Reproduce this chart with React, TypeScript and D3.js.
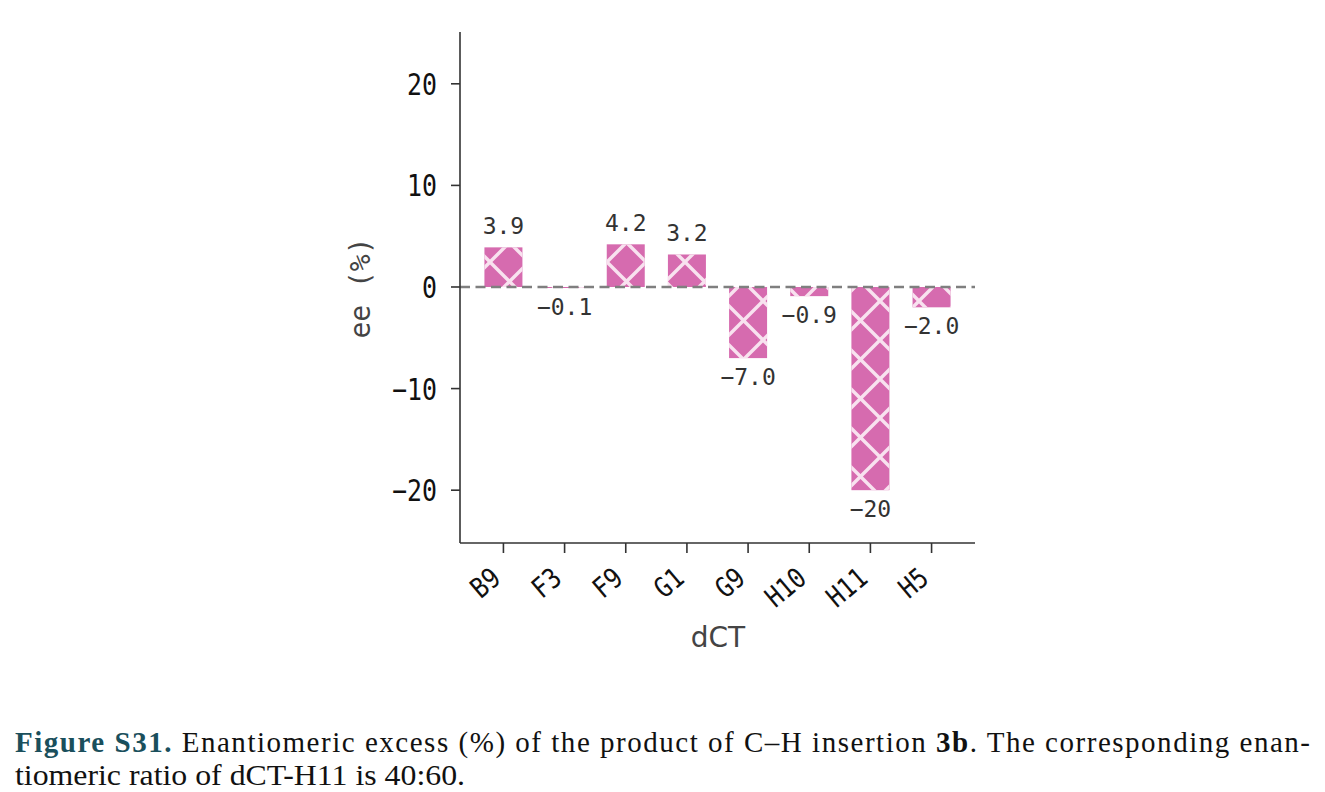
import React from 'react';
import * as d3 from 'd3';

const categories = ['B9', 'F3', 'F9', 'G1', 'G9', 'H10', 'H11', 'H5'];
const eeValues = [3.9, -0.1, 4.2, 3.2, -7.0, -0.9, -20, -2.0];
const valueLabels = ['3.9', '\u22120.1', '4.2', '3.2', '\u22127.0', '\u22120.9', '\u221220', '\u22122.0'];
const yTicks = [-20, -10, 0, 10, 20];
const yTickLabels = ['\u221220', '\u221210', '0', '10', '20'];
const yDomain = [-25.2, 25.1];

const W = 1325;
const H = 792;
const plot = { left: 460, right: 975, top: 32, bottom: 543 };
const PINK = '#d66baf';
const HATCH = '#f8e2ef';
const AXIS = '#333333';
const MONO = '"DejaVu Sans Mono", monospace';

export default function App() {
  const y = d3.scaleLinear().domain(yDomain).range([plot.bottom, plot.top]);
  const x = d3.scalePoint<string>().domain(categories).range([plot.left, plot.right]).padding(0.71);
  const barW = 38;
  const P = 39;
  const hatchLines: string[] = [];
  for (let k = -1; k <= 1; k++) {
    hatchLines.push(`M${-2},${-2 + k * P} L${P + 2},${P + 2 + k * P}`);
    hatchLines.push(`M${-2},${P + 2 + k * P} L${P + 2},${-2 + k * P}`);
  }
  const zeroY = y(0);
  return (
    <svg width={W} height={H} style={{ position: 'absolute', left: 0, top: 0, background: '#fff' }}>
      <defs>
        <pattern id="hatch" patternUnits="userSpaceOnUse" width={P} height={P} x={22} y={28}>
          <path d={hatchLines.join(' ')} stroke={HATCH} strokeWidth={3.4} fill="none" />
        </pattern>
      </defs>
      <rect x={0} y={0} width={W} height={H} fill="#fff" />
      {categories.map((c, i) => {
        const v = eeValues[i];
        const cx = x(c) as number;
        const y0 = Math.min(y(v), zeroY);
        const h = Math.abs(y(v) - zeroY);
        return (
          <g key={c}>
            <rect x={cx - barW / 2} y={y0} width={barW} height={h} fill={PINK} />
            <rect x={cx - barW / 2} y={y0} width={barW} height={h} fill="url(#hatch)" />
          </g>
        );
      })}
      <line x1={plot.left} x2={plot.right} y1={zeroY} y2={zeroY} stroke="#7f7f7f" strokeWidth={2.4} strokeDasharray="10,5.5" />
      {categories.map((c, i) => {
        const v = eeValues[i];
        const cx = x(c) as number;
        const ty = v >= 0 ? y(v) - 13 : y(v) + 27;
        return (
          <text key={c} x={cx} y={ty} textAnchor="middle" fontFamily={MONO} fontSize={23} fill="#333">
            {valueLabels[i]}
          </text>
        );
      })}
      <line x1={plot.left} x2={plot.left} y1={plot.top} y2={plot.bottom} stroke={AXIS} strokeWidth={1.6} />
      <line x1={plot.left} x2={plot.right} y1={plot.bottom} y2={plot.bottom} stroke={AXIS} strokeWidth={1.6} />
      {yTicks.map((t, i) => (
        <g key={t}>
          <line x1={plot.left - 9} x2={plot.left} y1={y(t)} y2={y(t)} stroke={AXIS} strokeWidth={1.6} />
          <text
            transform={`translate(${plot.left - 23},${y(t) + 11}) scale(0.83,1)`}
            textAnchor="end"
            fontFamily={MONO}
            fontSize={30}
            fill="#111"
          >
            {yTickLabels[i]}
          </text>
        </g>
      ))}
      {categories.map((c) => {
        const cx = x(c) as number;
        return (
          <g key={c}>
            <line x1={cx} x2={cx} y1={plot.bottom} y2={plot.bottom + 10} stroke={AXIS} strokeWidth={1.6} />
            <text
              transform={`translate(${cx - 1},${plot.bottom + 38}) rotate(-40) scale(0.85,1)`}
              textAnchor="end"
              fontFamily={MONO}
              fontSize={28}
              fill="#111"
            >
              {c}
            </text>
          </g>
        );
      })}
      <text x={718} y={647} textAnchor="middle" fontFamily='"DejaVu Sans", sans-serif' fontSize={28} fill="#444">
        dCT
      </text>
      <text transform={`translate(370,288) rotate(-90)`} textAnchor="middle" fontFamily={MONO} fontSize={28} fill="#444">
        ee (%)
      </text>
      <text x={15} y={752} fontFamily='"Liberation Serif", serif' fontSize={29} fill="#111" textLength={1295} lengthAdjust="spacing">
        <tspan fill="#1a4f5c" fontWeight="bold">Figure S31.</tspan>
        <tspan> Enantiomeric excess (%) of the product of C–H insertion </tspan>
        <tspan fontWeight="bold">3b</tspan>
        <tspan>. The corresponding enan-</tspan>
      </text>
      <text x={15} y={785} fontFamily='"Liberation Serif", serif' fontSize={29} fill="#111" textLength={450} lengthAdjust="spacingAndGlyphs">
        tiomeric ratio of dCT-H11 is 40:60.
      </text>
    </svg>
  );
}
